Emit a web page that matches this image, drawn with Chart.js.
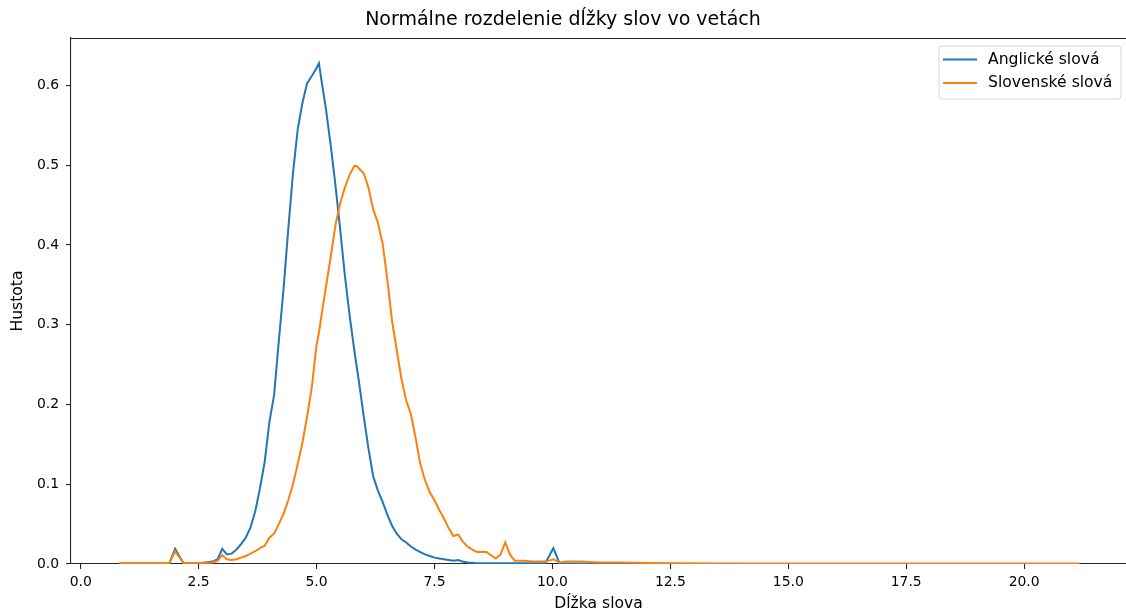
<!DOCTYPE html>
<html>
<head>
<meta charset="utf-8">
<script src="https://cdn.jsdelivr.net/npm/chart.js@4/dist/chart.umd.min.js"></script>
<style>
  html, body { margin: 0; padding: 0; background: #fff; }
  #wrap { width: 1126px; height: 612px; position: relative; }
</style>
</head>
<body>
<div id="wrap"><canvas id="c" width="1126" height="612"></canvas></div>
<script>
// ---- data ----
const chartTitle = "Normálne rozdelenie dĺžky slov vo vetách";
const xTitle = "Dĺžka slova";
const yTitle = "Hustota";
const seriesNames = ["Anglické slová", "Slovenské slová"];

const xGrid = [0.81, 1.2, 1.6, 1.88, 2.0, 2.18, 2.5, 2.8, 2.9, 3.0,
  3.1, 3.2, 3.3, 3.4, 3.5, 3.6, 3.7, 3.8, 3.9, 4.0,
  4.1, 4.2, 4.3, 4.4, 4.5, 4.6, 4.7, 4.8, 4.9, 5.0,
  5.05, 5.1, 5.2, 5.3, 5.4, 5.5, 5.6, 5.7, 5.8, 5.85,
  5.9, 6.0, 6.1, 6.2, 6.3, 6.4, 6.5, 6.6, 6.7, 6.8,
  6.9, 7.0, 7.1, 7.2, 7.3, 7.4, 7.5, 7.6, 7.7, 7.8,
  7.9, 8.0, 8.1, 8.2, 8.3, 8.4, 8.5, 8.6, 8.7, 8.8,
  8.9, 9.0, 9.1, 9.2, 9.4, 9.6, 9.85, 10.02, 10.15, 10.3,
  10.6, 11.0, 11.5, 12.0, 12.5, 13.0, 14.0, 16.0, 18.0, 20.0,
  21.17];

const englishDensity = [0.0005, 0.0005, 0.0005, 0.001, 0.019, 0.001, 0.0008, 0.003, 0.006, 0.019,
  0.012, 0.013, 0.018, 0.025, 0.033, 0.046, 0.066, 0.095, 0.128, 0.178,
  0.212, 0.28, 0.345, 0.42, 0.49, 0.545, 0.578, 0.603, 0.612, 0.622,
  0.628, 0.608, 0.57, 0.525, 0.475, 0.42, 0.362, 0.312, 0.268, 0.248,
  0.228, 0.185, 0.145, 0.11, 0.092, 0.078, 0.062, 0.048, 0.038, 0.031,
  0.027, 0.022, 0.018, 0.015, 0.012, 0.01, 0.008, 0.007, 0.006, 0.005,
  0.004, 0.005, 0.003, 0.002, 0.0015, 0.001, 0.001, 0.001, 0.001, 0.001,
  0.001, 0.001, 0.001, 0.001, 0.001, 0.001, 0.001, 0.020, 0.001, 0.0005,
  0.0005, 0.0004, 0.0003, 0.0003, 0.0002, 0.0002, 0.0002, 0.0002, 0.0002, 0.0002,
  0.0002];

const slovakDensity = [0.001, 0.001, 0.001, 0.001, 0.016, 0.001, 0.001, 0.002, 0.004, 0.011,
  0.006, 0.005, 0.006, 0.008, 0.010, 0.013, 0.016, 0.020, 0.023, 0.033,
  0.038, 0.050, 0.063, 0.080, 0.100, 0.125, 0.152, 0.185, 0.222, 0.275,
  0.290, 0.310, 0.348, 0.385, 0.425, 0.452, 0.472, 0.488, 0.499, 0.499,
  0.496, 0.490, 0.472, 0.445, 0.428, 0.402, 0.357, 0.305, 0.268, 0.232,
  0.205, 0.188, 0.158, 0.125, 0.105, 0.090, 0.080, 0.068, 0.057, 0.045,
  0.035, 0.037, 0.028, 0.022, 0.018, 0.015, 0.015, 0.015, 0.011, 0.007,
  0.012, 0.027, 0.012, 0.004, 0.004, 0.003, 0.003, 0.006, 0.002, 0.003,
  0.003, 0.002, 0.002, 0.0012, 0.0008, 0.0005, 0.0003, 0.0002, 0.0002, 0.0002,
  0.0002];

const xTicks = [0, 2.5, 5, 7.5, 10, 12.5, 15, 17.5, 20];
const yTicks = [0, 0.1, 0.2, 0.3, 0.4, 0.5, 0.6];

// ---- chart ----
const FONT = "'DejaVu Sans', 'Liberation Sans', sans-serif";
const AX = '#262626';
const LABEL_SIZE = 15.6;
Chart.defaults.font.family = FONT;
Chart.defaults.color = '#000';

const toPts = (ys) => xGrid.map((x, i) => ({ x: x, y: ys[i] }));

const legendInside = {
  id: 'legendInside',
  afterDraw(chart) {
    const ctx = chart.ctx;
    const ds = chart.data.datasets;
    const x0 = 939, y0 = 46, w = 182, h = 53;
    ctx.save();
    ctx.beginPath();
    const r = 3;
    ctx.moveTo(x0 + r, y0);
    ctx.lineTo(x0 + w - r, y0); ctx.quadraticCurveTo(x0 + w, y0, x0 + w, y0 + r);
    ctx.lineTo(x0 + w, y0 + h - r); ctx.quadraticCurveTo(x0 + w, y0 + h, x0 + w - r, y0 + h);
    ctx.lineTo(x0 + r, y0 + h); ctx.quadraticCurveTo(x0, y0 + h, x0, y0 + h - r);
    ctx.lineTo(x0, y0 + r); ctx.quadraticCurveTo(x0, y0, x0 + r, y0);
    ctx.closePath();
    ctx.fillStyle = 'rgba(255,255,255,0.8)';
    ctx.fill();
    ctx.strokeStyle = '#d6d6d6';
    ctx.lineWidth = 1;
    ctx.stroke();
    ds.forEach((d, i) => {
      const yy = 59.5 + i * 23.4;
      ctx.beginPath();
      ctx.moveTo(943, yy); ctx.lineTo(977, yy);
      ctx.strokeStyle = d.borderColor; ctx.lineWidth = 2;
      ctx.stroke();
      ctx.fillStyle = '#000';
      ctx.font = LABEL_SIZE + 'px ' + FONT;
      ctx.textBaseline = 'middle';
      ctx.textAlign = 'left';
      ctx.fillText(d.label, 988, yy);
    });
    ctx.restore();
  }
};

const topSpine = {
  id: 'topSpine',
  afterDraw(chart) {
    const a = chart.chartArea, ctx = chart.ctx;
    ctx.save();
    ctx.strokeStyle = AX; ctx.lineWidth = 1.1;
    ctx.beginPath();
    ctx.moveTo(a.left, a.top + 0.5); ctx.lineTo(a.right, a.top + 0.5);
    ctx.stroke();
    ctx.restore();
  }
};

new Chart(document.getElementById('c'), {
  type: 'line',
  data: {
    datasets: [
      { label: seriesNames[0], data: toPts(englishDensity), borderColor: '#1f77b4', backgroundColor: '#1f77b4',
        borderWidth: 2, pointRadius: 0, tension: 0, fill: false, order: 1 },
      { label: seriesNames[1], data: toPts(slovakDensity), borderColor: '#ff7f0e', backgroundColor: '#ff7f0e',
        borderWidth: 2, pointRadius: 0, tension: 0, fill: false, order: 0 }
    ]
  },
  options: {
    responsive: false,
    animation: false,
    layout: { padding: 0 },
    plugins: {
      legend: { display: false },
      tooltip: { enabled: false },
      title: {
        display: true, text: chartTitle, color: '#000',
        font: { size: 19, weight: 'normal', family: FONT },
        padding: { top: 9, bottom: 6.2 }
      }
    },
    scales: {
      x: {
        type: 'linear', min: -0.206, max: 22.16,
        afterFit(s) { s.height = 48; },
        afterBuildTicks(s) { s.ticks = xTicks.map(v => ({ value: v })); },
        ticks: { callback: v => Number(v).toFixed(1), font: { size: 13.9 }, color: '#000', padding: 5, maxRotation: 0, autoSkip: false },
        grid: { drawOnChartArea: false, drawTicks: true, tickLength: 5, color: AX, lineWidth: 1.1 },
        border: { display: true, color: AX, width: 1.1 },
        title: { display: true, text: xTitle, font: { size: LABEL_SIZE }, color: '#000', padding: { top: 0, bottom: -1 } }
      },
      y: {
        type: 'linear', min: 0, max: 0.6596,
        afterFit(s) { s.width = 71; },
        afterBuildTicks(s) { s.ticks = yTicks.map(v => ({ value: v })); },
        ticks: { callback: v => Number(v).toFixed(1), font: { size: 13.9 }, color: '#000', padding: 7, autoSkip: false },
        grid: { drawOnChartArea: false, drawTicks: true, tickLength: 5, color: AX, lineWidth: 1.1 },
        border: { display: true, color: AX, width: 1.1 },
        title: { display: true, text: yTitle, font: { size: LABEL_SIZE }, color: '#000', padding: { top: 8.6, bottom: 0 } }
      }
    }
  },
  plugins: [legendInside, topSpine]
});
</script>
</body>
</html>
